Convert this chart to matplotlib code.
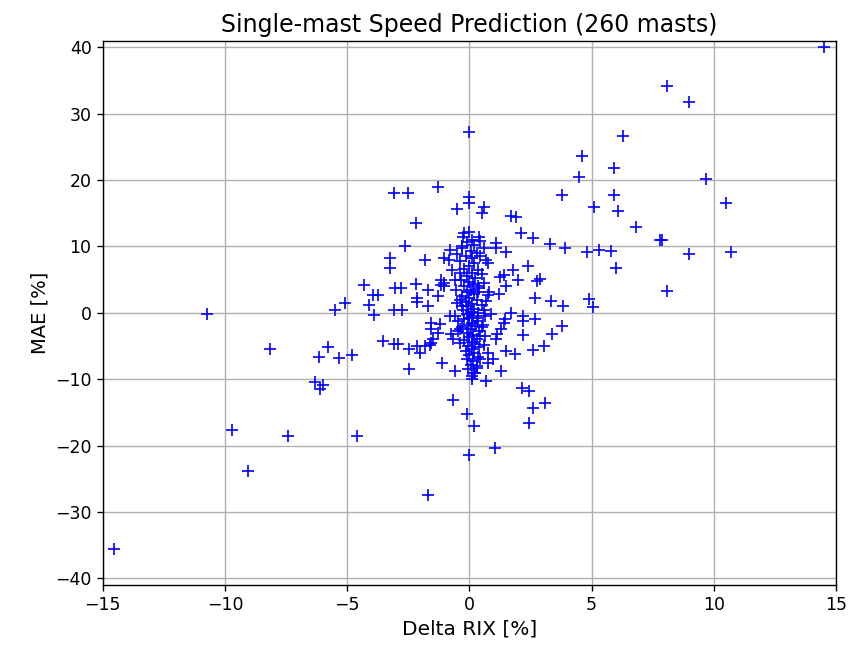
import matplotlib
matplotlib.use("Agg")
import matplotlib.pyplot as plt
import numpy as np

titulo = "Single-mast Speed Prediction (260 masts)"

# Delta RIX [%] y MAE [%] por mástil, agrupados por zona del gráfico
delta_rix_ext = [
    14.5, 8.1, 9.0, 6.3, 4.6, 5.9, 4.5, 9.7, 3.8, 5.9,
    10.5, 5.1, 6.1, 6.8, 7.8, 7.9, 9.0, 10.7, 6.0, 8.1,
    4.8, 5.3, 5.8, 3.9, 3.3, 2.6, 2.1, 1.7, 1.9, 0.6,
    0.5, 2.4, 1.8, 2.9, 2.75, 2.0, 1.25, 1.4, 1.5, 2.7,
    3.35, 3.85, 4.9, 5.05, 0.7, 0.75, 1.1, 1.1, 1.5, 0.6,
    0.4, 1.2, 0.75, 0.35, 0.35, 1.7, 0.0, 0.0, 0.0,
]
mae_ext = [
    40.1, 34.1, 31.7, 26.6, 23.7, 21.8, 20.4, 20.2, 17.8, 17.8,
    16.5, 16.0, 15.3, 12.9, 10.9, 10.9, 8.9, 9.1, 6.8, 3.3,
    9.1, 9.5, 9.35, 9.75, 10.4, 11.3, 12.0, 14.6, 14.4, 16.0,
    15.1, 7.0, 6.5, 5.1, 4.85, 5.0, 5.4, 5.7, 4.0, 2.2,
    1.75, 1.0, 2.1, 0.9, 8.0, 7.5, 10.5, 9.75, 9.1, 9.75,
    11.4, 2.8, 2.75, 4.0, 3.1, 0.0, 27.2, 17.5, 16.6,
]

delta_rix_izq = [
    -3.1, -2.5, -1.3, -0.5, -2.2, -2.65, -3.25, -3.25, -1.8, -1.05,
    -0.85, -0.8, -0.3, -0.25, -0.2, -0.7, -1.15, -1.15, -4.3, -3.95,
    -3.75, -3.05, -2.8, -2.2, -1.7, -1.05, -1.05, -2.15, -2.15, -1.3,
    -5.1, -5.5, -4.1, -3.1, -2.75, -1.7, -0.6, -0.55, -0.4, -0.3,
    -10.75, -3.9, -0.8, -0.6,
    -1.55, -1.2, -1.55, -1.3, -0.75, -0.65, -0.4, -0.45, -1.5, -1.55,
    -0.4, -3.55, -3.1, -2.9, -2.45, -2.15, -2.0, -1.8, -1.6, -2.45,
    -1.1, -0.6, -0.65, -1.7, -8.15, -5.8, -6.15, -5.35, -4.8, -6.3,
    -6.0, -6.1, -9.7, -7.4, -4.6, -9.05, -14.55, -0.1, 0.0,
]
mae_izq = [
    18.1, 18.1, 18.9, 15.6, 13.5, 10.1, 8.2, 6.75, 8.0, 8.25,
    7.9, 9.5, 9.75, 11.5, 12.0, 6.5, 5.0, 4.25, 4.2, 2.75,
    2.75, 3.75, 3.75, 4.3, 3.4, 4.5, 4.0, 2.25, 1.6, 2.5,
    1.45, 0.4, 1.2, 0.5, 0.5, 1.1, 5.0, 3.5, 2.0, 1.0,
    -0.1, -0.3, -0.5, -0.5,
    -1.5, -1.75, -2.5, -3.0, -3.25, -4.0, -2.5, -2.75, -4.0, -4.5,
    -4.5, -4.25, -4.75, -4.75, -5.5, -5.0, -6.0, -5.0, -4.9, -8.5,
    -7.6, -8.75, -13.2, -27.4, -5.4, -5.15, -6.6, -6.75, -6.3, -10.4,
    -10.9, -11.4, -17.6, -18.5, -18.5, -23.9, -35.6, -15.2, -21.4,
]

delta_rix_der = [
    1.05, 0.2, 2.15, 2.45, 3.1, 2.6, 2.45, 0.7, 1.3, 2.6,
    3.05, 3.4, 3.8, 2.2, 1.5, 1.85, 0.75, 0.95, 0.75, 0.45,
    0.3, 0.25, 0.1, 1.3, 1.15, 1.1, 1.4, 1.45, 2.2, 2.2,
    2.7, 0.9, 0.65, 0.35, 0.65, 0.45,
]
mae_der = [
    -20.3, -17.0, -11.3, -11.8, -13.6, -14.4, -16.6, -10.3, -8.75, -5.6,
    -5.0, -3.25, -2.0, -3.4, -5.75, -6.25, -6.0, -7.0, -7.5, -7.0,
    -8.25, -9.0, -9.5, -2.5, -3.25, -4.0, -1.5, -1.0, -0.5, -1.25,
    -1.0, -0.25, -0.5, -0.75, -3.5, -3.5,
]

# núcleo denso alrededor de Delta RIX = 0
delta_rix_centro = [
    0.0, 0.1, -0.1, 0.2, -0.3, 0.05, 0.3, -0.15, 0.1, -0.4,
    0.2, 0.0, -0.2, 0.35, 0.1, -0.1, 0.25, -0.35, 0.0, 0.15,
    -0.2, 0.4, 0.05, -0.1, 0.2, -0.3, 0.0, 0.3, -0.15, 0.1,
    0.5, -0.05, 0.2, -0.25, 0.05, 0.35, -0.1, 0.15, 0.0, -0.2,
    0.3, 0.1, -0.05, 0.25, -0.3, 0.05, 0.4, -0.1, 0.15, 0.0,
    0.3, -0.2, 0.1, 0.25, -0.05, 0.4, 0.1, -0.15, 0.2, 0.0,
    0.35, -0.1, 0.15, 0.05, 0.3, -0.05, 0.2, 0.1, 0.6, 0.7,
    0.55, 0.8, 0.6, 0.5, -0.5, -0.45, 0.45, -0.5, 0.6, 0.5,
    -0.4, 0.45,
]
mae_centro = [
    12.2, 11.0, 10.6, 10.2, 10.0, 9.3, 9.0, 8.6, 8.2, 7.8,
    7.5, 7.0, 6.6, 6.4, 6.0, 5.6, 5.3, 5.0, 4.7, 4.3,
    4.0, 3.8, 3.5, 3.1, 2.8, 2.5, 2.2, 2.0, 1.7, 1.4,
    1.2, 1.0, 0.6, 0.4, 0.2, 0.0, -0.2, -0.5, -0.8, -1.0,
    -1.2, -1.5, -1.8, -2.0, -2.2, -2.5, -2.7, -3.0, -3.3, -3.6,
    -3.9, -4.1, -4.4, -4.7, -5.0, -5.2, -5.5, -5.8, -6.0, -6.4,
    -6.7, -7.0, -7.3, -7.8, -8.0, -8.5, -9.0, -10.0, 0.5, 1.8,
    -1.8, 3.2, 4.5, 5.8, 1.5, -1.2, 8.5, 8.8, -4.8, -2.2,
    6.0, 10.8,
]

delta_rix = np.array(delta_rix_ext + delta_rix_izq + delta_rix_der + delta_rix_centro)
mae = np.array(mae_ext + mae_izq + mae_der + mae_centro)

fig = plt.figure(figsize=(8.51, 6.51), dpi=100)
ax = fig.add_axes([0.1207, 0.1014, 0.8617, 0.8361])

ax.plot(delta_rix, mae, "b+", markersize=8.5, markeredgewidth=1.2)

ax.set_xlim(-15, 15)
ax.set_ylim(-41, 41)
ax.set_xticks([-15, -10, -5, 0, 5, 10, 15])
ax.set_yticks([-40, -30, -20, -10, 0, 10, 20, 30, 40])
ax.tick_params(labelsize=12.5, length=4.5, width=1.0)
ax.grid(True, color="#b0b0b0", linewidth=1.0)
ax.set_axisbelow(True)
for s in ax.spines.values():
    s.set_linewidth(1.0)

ax.set_xlabel("Delta RIX [%]", fontsize=14.5)
ax.set_ylabel("MAE [%]", fontsize=14)
ax.set_title(titulo, fontsize=17)

fig.savefig("out.png", dpi=100)
